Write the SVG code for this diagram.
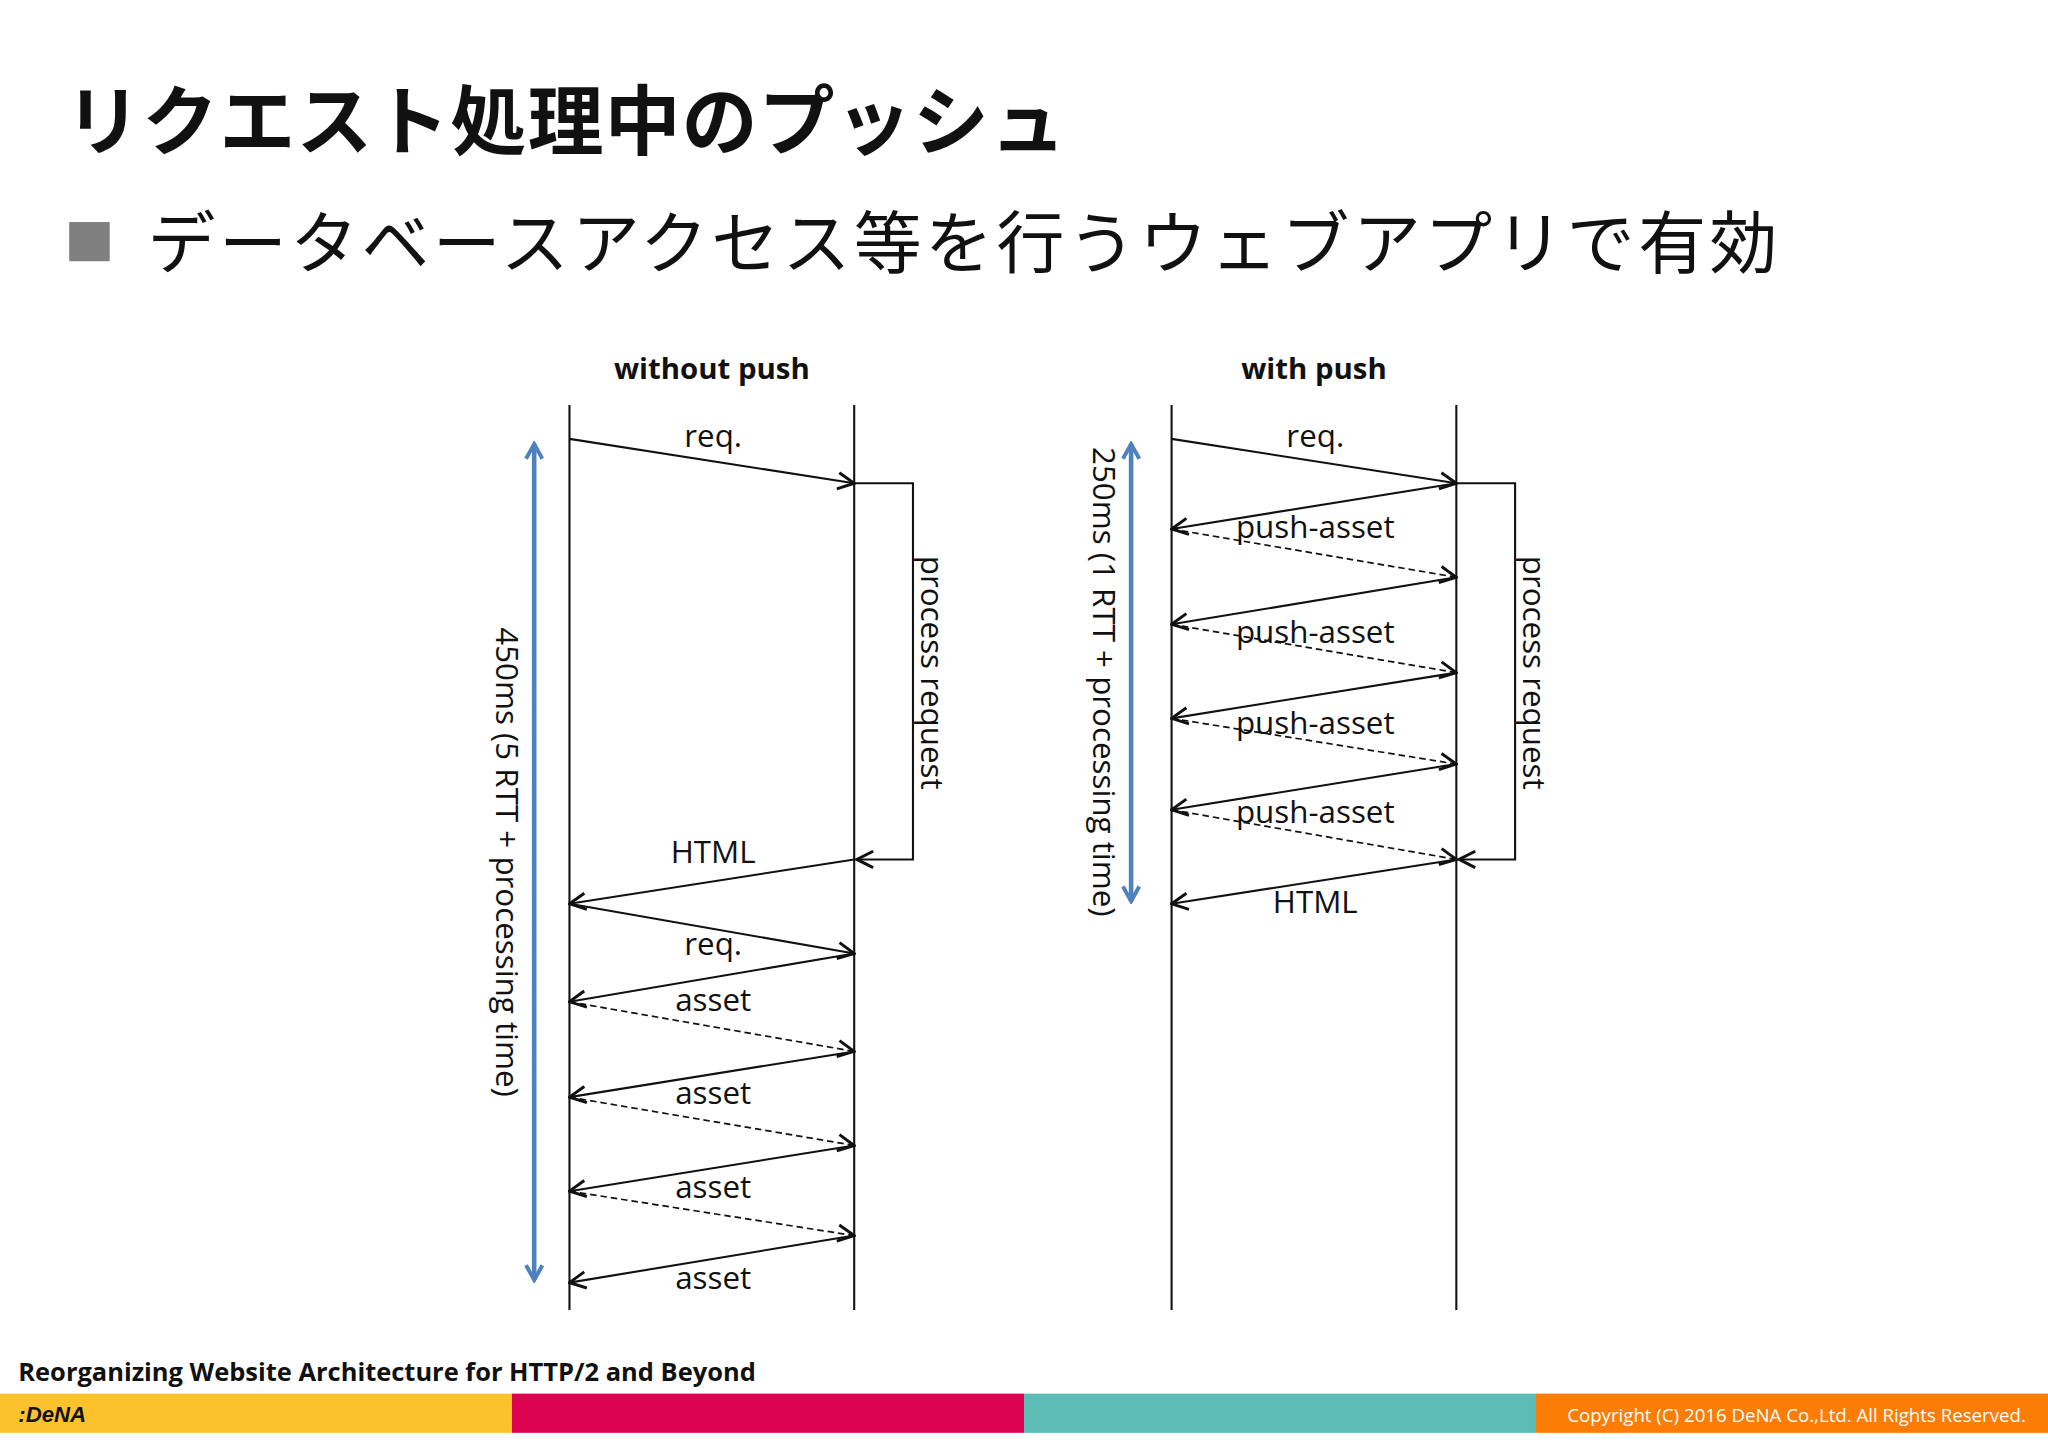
<svg xmlns="http://www.w3.org/2000/svg" width="2048" height="1447" viewBox="0 0 2048 1447">
<style>
.t{font-family:"Noto Sans CJK JP","Noto Sans",sans-serif}
.l{font-family:"Open Sans","Liberation Sans",sans-serif;font-size:24px;fill:#111;text-anchor:middle}
.h{font-family:"Open Sans","Liberation Sans",sans-serif;font-size:22.5px;font-weight:bold;fill:#111;text-anchor:middle}
.ln{stroke:#111;stroke-width:1.6;fill:none}
.a{stroke:#111;stroke-width:1.6;fill:none;marker-end:url(#ah)}
.d{stroke:#111;stroke-width:1.3;fill:none;stroke-dasharray:5,3;marker-end:url(#ah)}
.b{stroke:#4f81bd;stroke-width:3.5;fill:none;marker-start:url(#bh);marker-end:url(#bh)}
</style>
<defs>
<marker id="ah" viewBox="0 0 12 12" refX="11" refY="6" markerWidth="15" markerHeight="15" markerUnits="userSpaceOnUse" orient="auto"><path d="M1,1 L11,6 L1,11" fill="none" stroke="#111" stroke-width="1.8"/></marker>
<marker id="bh" viewBox="0 0 12 12" refX="10" refY="6" markerWidth="15" markerHeight="15" markerUnits="userSpaceOnUse" orient="auto-start-reverse"><path d="M1,1 L10,6 L1,11" fill="none" stroke="#4f81bd" stroke-width="2.4"/></marker>
</defs>
<rect width="2048" height="1447" fill="#fff"/>
<g transform="scale(1.30612)">
<text class="t" x="50" y="114" font-size="58" font-weight="bold" letter-spacing="1" fill="#111">リクエスト処理中のプッシュ</text>
<rect x="53" y="170" width="31" height="30" fill="#7f7f7f"/>
<text class="t" x="113" y="205" font-size="52" letter-spacing="2.6" fill="#111">データベースアクセス等を行うウェブアプリで有効</text>
<text class="h" x="545" y="290">without push</text>
<text class="h" x="1006" y="290">with push</text>
<g id="lifelines">
<line class="ln" x1="436" y1="310" x2="436" y2="1003"/>
<line class="ln" x1="654" y1="310" x2="654" y2="1003"/>
<line class="ln" x1="897" y1="310" x2="897" y2="1003"/>
<line class="ln" x1="1115" y1="310" x2="1115" y2="1003"/>
</g>
<g id="connectors">
<line class="b" x1="409" y1="340" x2="409" y2="980"/>
<line class="b" x1="866" y1="340" x2="866" y2="690"/>
<path class="a" d="M436,336 L654,370"/>
<path class="a" d="M654,370 L699,370 L699,658 L656,658"/>
<path class="a" d="M654,658 L436,692"/>
<path class="a" d="M436,692 L654,730"/>
<path class="a" d="M654,730 L436,767"/>
<path class="d" d="M436,767 L654,805"/>
<path class="a" d="M654,805 L436,840"/>
<path class="d" d="M436,840 L654,877"/>
<path class="a" d="M654,877 L436,912"/>
<path class="d" d="M436,912 L654,946"/>
<path class="a" d="M654,946 L436,982"/>
<path class="a" d="M897,336 L1115,370"/>
<path class="a" d="M1115,370 L1160,370 L1160,658 L1117,658"/>
<path class="a" d="M1115,370 L897,405"/>
<path class="d" d="M897,405 L1115,442"/>
<path class="a" d="M1115,442 L897,478"/>
<path class="d" d="M897,478 L1115,515"/>
<path class="a" d="M1115,515 L897,550"/>
<path class="d" d="M897,550 L1115,585"/>
<path class="a" d="M1115,585 L897,620"/>
<path class="d" d="M897,620 L1115,658"/>
<path class="a" d="M1115,658 L897,692"/>
</g>
<g id="labels">
<text class="l" x="546" y="342">req.</text>
<text class="l" x="546" y="661">HTML</text>
<text class="l" x="546" y="731">req.</text>
<text class="l" x="546" y="774">asset</text>
<text class="l" x="546" y="845">asset</text>
<text class="l" x="546" y="917">asset</text>
<text class="l" x="546" y="987">asset</text>
<text class="l" x="1007" y="342">req.</text>
<text class="l" x="1007" y="412">push-asset</text>
<text class="l" x="1007" y="492">push-asset</text>
<text class="l" x="1007" y="562">push-asset</text>
<text class="l" x="1007" y="630">push-asset</text>
<text class="l" x="1007" y="699">HTML</text>
<text class="l" transform="translate(705,515) rotate(90)">process request</text>
<text class="l" transform="translate(1166,515) rotate(90)">process request</text>
<text class="l" transform="translate(380,660) rotate(90)">450ms (5 RTT + processing time)</text>
<text class="l" transform="translate(837,522) rotate(90)">250ms (1 RTT + processing time)</text>
</g>
<text x="14" y="1057" font-family="Open Sans,Liberation Sans,sans-serif" font-size="19.5" font-weight="bold" fill="#111">Reorganizing Website Architecture for HTTP/2 and Beyond</text>
<rect x="0" y="1067" width="392" height="30" fill="#fcc22d"/>
<rect x="392" y="1067" width="392" height="30" fill="#dc0451"/>
<rect x="784" y="1067" width="392" height="30" fill="#5cbcb6"/>
<rect x="1176" y="1067" width="392" height="30" fill="#fb7d05"/>
<text x="14" y="1089" font-family="Liberation Sans,sans-serif" font-size="17" font-weight="bold" font-style="italic" fill="#111">:DeNA</text>
<text x="1551" y="1089" text-anchor="end" font-family="Open Sans,Liberation Sans,sans-serif" font-size="14.3" fill="#fff">Copyright (C) 2016 DeNA Co.,Ltd. All Rights Reserved.</text>
</g>
</svg>
